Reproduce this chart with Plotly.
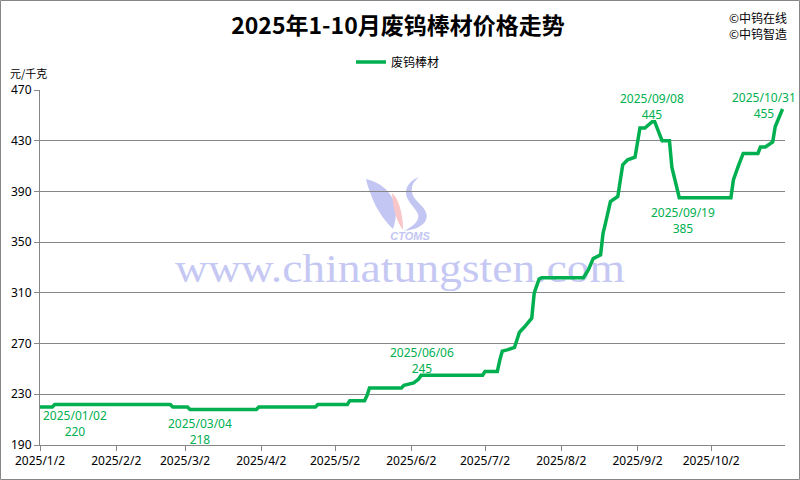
import base64
import plotly.graph_objects as go

# ---------------- data ----------------
dates = [
    "2025-01-02", "2025-01-07", "2025-01-08", "2025-02-24", "2025-02-25",
    "2025-03-03", "2025-03-04", "2025-03-31", "2025-04-01", "2025-04-24",
    "2025-04-25", "2025-05-07", "2025-05-08", "2025-05-14", "2025-05-15",
    "2025-05-16", "2025-05-29", "2025-05-30", "2025-06-03", "2025-06-05",
    "2025-06-06", "2025-07-01", "2025-07-02", "2025-07-07", "2025-07-08",
    "2025-07-09", "2025-07-11", "2025-07-14", "2025-07-15", "2025-07-16",
    "2025-07-18", "2025-07-21", "2025-07-22", "2025-07-23", "2025-07-24",
    "2025-07-25", "2025-08-11", "2025-08-13", "2025-08-15", "2025-08-18",
    "2025-08-19", "2025-08-20", "2025-08-22", "2025-08-25", "2025-08-26",
    "2025-08-27", "2025-08-29", "2025-09-01", "2025-09-03", "2025-09-05",
    "2025-09-08", "2025-09-09", "2025-09-12", "2025-09-15", "2025-09-16",
    "2025-09-17", "2025-09-19", "2025-10-10", "2025-10-11", "2025-10-13",
    "2025-10-15", "2025-10-21", "2025-10-22", "2025-10-24", "2025-10-27",
    "2025-10-28", "2025-10-31",
]
prices = [
    220, 220, 222, 222, 220,
    220, 218, 218, 220, 220,
    222, 222, 225, 225, 229,
    235, 235, 237, 239, 242,
    245, 245, 248, 248, 257,
    264, 265, 267, 273, 279,
    283, 290, 310, 315, 321,
    322, 322, 328, 337, 340,
    357, 365, 382, 386, 399,
    411, 415, 417, 440, 440,
    445, 445, 430, 430, 409,
    401, 385, 385, 399, 410,
    420, 420, 425, 425, 429,
    441, 455,
]
series_name = "废钨棒材"
x_tick_vals = ["2025-01-02", "2025-02-02", "2025-03-02", "2025-04-02", "2025-05-02",
               "2025-06-02", "2025-07-02", "2025-08-02", "2025-09-02", "2025-10-02"]
x_tick_text = ["2025/1/2", "2025/2/2", "2025/3/2", "2025/4/2", "2025/5/2",
               "2025/6/2", "2025/7/2", "2025/8/2", "2025/9/2", "2025/10/2"]
y_tick_vals = [190, 230, 270, 310, 350, 390, 430, 470]
label_dates = ["2025-01-02", "2025-03-04", "2025-06-06", "2025-09-08", "2025-09-19", "2025-10-31"]
label_text = ["2025/01/02", "2025/03/04", "2025/06/06", "2025/09/08", "2025/09/19", "2025/10/31"]

# ---------------- layout geometry ----------------
W, H = 800, 480
ML, MR, MT, MB = 40, 15, 90, 35
PW, PH = W - ML - MR, H - MT - MB
GREEN = "#00B050"
GRID = "#868686"
label_shift = [(35, -17), (10, -22), (1, 15), (0, 15), (4, -23), (-19, 4)]


def px_x(x):
    return (x - ML) / PW


def px_y(y):
    return 1 - (y - MT) / PH


fig = go.Figure()
fig.add_trace(go.Scatter(
    x=dates, y=prices, mode="lines", name=series_name,
    line=dict(color=GREEN, width=3.5),
))

annotations = []
for d, t, (dx, dy) in zip(label_dates, label_text, label_shift):
    v = prices[dates.index(d)]
    annotations.append(dict(
        x=d, y=v, xref="x", yref="y", text=f"{t}<br>{v}", showarrow=False,
        xshift=dx, yshift=dy, xanchor="center", yanchor="middle", align="center",
        font=dict(family="Noto Sans", size=12, color=GREEN),
    ))

annotations += [
    dict(x=px_x(8), y=px_y(73), xref="paper", yref="paper", text="元/千克",
         showarrow=False, xanchor="left", yanchor="middle",
         font=dict(family="Noto Sans CJK SC", size=11, color="#000")),
    dict(x=px_x(727), y=px_y(17), xref="paper", yref="paper", text="©中钨在线",
         showarrow=False, xanchor="left", yanchor="middle",
         font=dict(family="Noto Sans CJK SC", size=12, color="#000")),
    dict(x=px_x(727), y=px_y(34), xref="paper", yref="paper", text="©中钨智造",
         showarrow=False, xanchor="left", yanchor="middle",
         font=dict(family="Noto Sans CJK SC", size=12, color="#000")),
]

# watermark (drawn beneath grid and data)
svg = """<svg xmlns="http://www.w3.org/2000/svg" width="800" height="480" viewBox="0 0 800 480">
<path d="M366,179 C380,182 392,192 395,205 C397,215 395,223 393,229 C386,222 378,212 373,200 C370,192 367,185 366,179 Z" fill="#C3C6F2"/>
<path d="M392,193 C398,198 403,212 403,230 C397,222 393,210 392,193 Z" fill="#F8C6C8"/>
<path d="M419,177 C411,183 409,192 416,200 C424,208 430,214 425,222 C420,228 412,230 404,231 C414,226 420,220 418,214 C414,206 405,200 406,191 C407,184 413,179 419,177 Z" fill="#C3C6F2"/>
<text x="410" y="240" font-family="Liberation Sans" font-weight="bold" font-style="italic" font-size="11" fill="#C3C6F2" text-anchor="middle">CTOMS</text>
<text x="400" y="282" font-family="Liberation Serif" font-size="41" fill="#C6C8F4" text-anchor="middle" textLength="450" lengthAdjust="spacingAndGlyphs">www.chinatungsten.com</text>
</svg>"""
src = "data:image/svg+xml;base64," + base64.b64encode(svg.encode("utf-8")).decode("ascii")

fig.update_layout(
    width=W, height=H,
    margin=dict(l=ML, r=MR, t=MT, b=MB, pad=0),
    paper_bgcolor="white", plot_bgcolor="rgba(0,0,0,0)",
    title=dict(text="<b>2025年1-10月废钨棒材价格走势</b>", x=px_x(398), xanchor="center",
               y=1 - 26 / H, yanchor="middle", xref="paper",
               font=dict(family="Liberation Sans Narrow, Noto Sans CJK SC", size=23, color="#000")),
    showlegend=True,
    legend=dict(orientation="h", x=px_x(398), xanchor="center", y=px_y(62), yanchor="middle",
                font=dict(family="Noto Sans CJK SC", size=12, color="#000"),
                bgcolor="rgba(0,0,0,0)"),
    xaxis=dict(type="date", range=["2025-01-02", "2025-11-01"],
               tickvals=x_tick_vals, ticktext=x_tick_text,
               ticks="outside", ticklen=5, tickcolor=GRID, showline=True,
               linecolor=GRID, linewidth=1, showgrid=False, zeroline=False,
               tickfont=dict(family="Noto Sans", size=12, color="#000")),
    yaxis=dict(range=[190, 470], tickvals=y_tick_vals, ticks="outside", ticklen=5,
               tickcolor=GRID, showline=True, linecolor=GRID, linewidth=1,
               showgrid=True, gridcolor=GRID, gridwidth=1, zeroline=False,
               tickfont=dict(family="Noto Sans", size=12, color="#000")),
    annotations=annotations,
    images=[dict(source=src, xref="paper", yref="paper", x=px_x(0), y=px_y(0),
                 sizex=W / PW, sizey=H / PH, xanchor="left", yanchor="top",
                 sizing="stretch", layer="below")],
    shapes=[dict(type="rect", xref="paper", yref="paper",
                 x0=px_x(0.5), x1=px_x(799.5), y0=px_y(479.5), y1=px_y(0.5),
                 line=dict(color=GRID, width=1), fillcolor="rgba(0,0,0,0)")],
)

fig.write_html("out.html", config={"displayModeBar": False},
               post_script="document.body.style.margin='0';document.body.style.overflow='hidden';")
